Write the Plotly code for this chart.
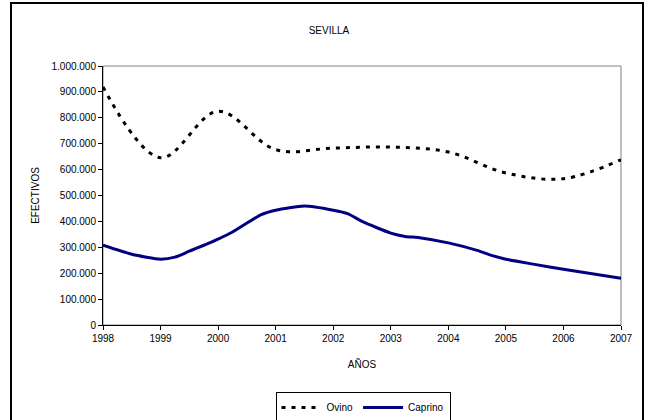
import plotly.graph_objects as go

years = [1998, 1999, 2000, 2001, 2002, 2003, 2004, 2005, 2006, 2007]
ovino = [919000, 646000, 825000, 677000, 683000, 687000, 668000, 587000, 565000, 638000]

caprino_x = [1998, 1998.5, 1999, 1999.25, 1999.5, 2000, 2000.25, 2000.75, 2001, 2001.5,
             2002, 2002.25, 2002.5, 2003, 2003.25, 2003.5, 2004, 2004.5, 2004.75, 2005,
             2005.5, 2006, 2007]
caprino = [308000, 273000, 254000, 262000, 285000, 332000, 359000, 426000, 443000, 459000,
           443000, 430000, 400000, 355000, 342000, 337000, 317000, 288000, 269000, 254000,
           234000, 215000, 180000]

yticks = list(range(0, 1000001, 100000))

FONT = "Liberation Sans Narrow, Arial Narrow, Liberation Sans, Arial, sans-serif"
FS = 10

fig = go.Figure()
fig.add_trace(go.Scatter(x=years, y=ovino, name="Ovino", mode="lines",
                         line=dict(color="black", width=3, dash="4px,6px", shape="spline", smoothing=1.0)))
fig.add_trace(go.Scatter(x=caprino_x, y=caprino, name="Caprino", mode="lines",
                         line=dict(color="#000080", width=3, shape="spline", smoothing=0.6)))

L, R, T, B = 103, 31, 66, 95
W, H = 652, 420
pw, ph = W - L - R, H - T - B

fig.update_layout(
    width=W, height=H,
    margin=dict(l=L, r=R, t=T, b=B, autoexpand=False),
    paper_bgcolor="white", plot_bgcolor="white",
    separators=",.",
    font=dict(family=FONT, size=FS, color="black"),
    title=dict(text="SEVILLA", x=329 / W, xanchor="center", y=1 - 30 / H, yanchor="middle",
               font=dict(size=FS, family=FONT)),
    showlegend=True,
    legend=dict(orientation="h", x=(363 - L) / pw, xanchor="center", y=(ph - (392 - T)) / ph, yanchor="top",
                bordercolor="black", borderwidth=1, font=dict(size=FS, family=FONT),
                itemwidth=40, tracegroupgap=0),
    xaxis=dict(range=[1998, 2007], tickvals=years, ticktext=[str(y) for y in years],
               showgrid=False, zeroline=False, showline=True, linecolor="black", linewidth=1,
               ticks="outside", ticklen=4, tickcolor="black", automargin=False,
               title=dict(text="AÑOS", font=dict(size=FS, family=FONT), standoff=17)),
    yaxis=dict(range=[0, 1000000], tickvals=yticks, tickformat=",d",
               showgrid=False, zeroline=False, showline=True, linecolor="black", linewidth=1,
               ticks="outside", ticklen=4, tickcolor="black", automargin=False,
               title=dict(text="EFECTIVOS", font=dict(size=FS, family=FONT), standoff=10)),
)

# gray plot-area frame (top/right)
fig.add_shape(type="rect", xref="paper", yref="paper", x0=0, y0=0, x1=1, y1=1,
              line=dict(color="#808080", width=1), layer="below")
# outer chart border
fig.add_shape(type="rect", xref="paper", yref="paper",
              x0=(11 - L) / pw, x1=(643 - L) / pw,
              y0=(ph - (430 - T)) / ph, y1=(ph - (3 - T)) / ph,
              line=dict(color="black", width=2))

fig.write_html("out.html", config={"displayModeBar": False},
               post_script="document.body.style.margin='0';")
